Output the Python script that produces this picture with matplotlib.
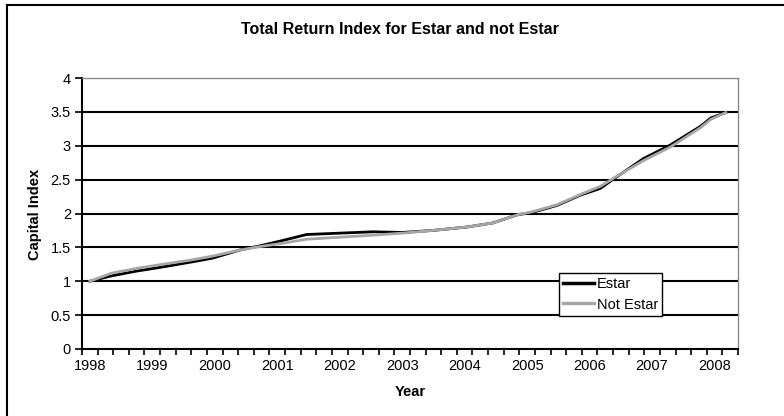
import numpy as np
import matplotlib
matplotlib.use("Agg")
import matplotlib.pyplot as plt
from matplotlib.lines import Line2D

plt.rcParams["font.family"] = ["Liberation Sans", "DejaVu Sans"]

# values
years = [1998.0, 1998.35, 1998.75, 1999.16, 1999.6, 1999.96, 2000.4, 2000.71, 2001.08,
         2001.47, 2002.0, 2002.53, 2003.0, 2003.49, 2004.03, 2004.45, 2004.84, 2005.1,
         2005.48, 2005.85, 2006.17, 2006.4, 2006.86, 2007.29, 2007.78, 2007.94, 2008.18]
estar = [1.00, 1.08, 1.15, 1.21, 1.28, 1.34, 1.46, 1.52, 1.60,
         1.69, 1.71, 1.73, 1.72, 1.75, 1.80, 1.86, 1.98, 2.02,
         2.12, 2.27, 2.37, 2.52, 2.81, 3.01, 3.29, 3.41, 3.49]
not_estar = [1.00, 1.12, 1.19, 1.25, 1.31, 1.37, 1.46, 1.51, 1.56,
             1.62, 1.65, 1.68, 1.71, 1.75, 1.80, 1.86, 1.98, 2.03,
             2.13, 2.28, 2.40, 2.53, 2.78, 2.98, 3.27, 3.39, 3.49]
year_labels = list(range(1998, 2009))
y_ticks = [0, 0.5, 1, 1.5, 2, 2.5, 3, 3.5, 4]
y_labels = ["0", "0.5", "1", "1.5", "2", "2.5", "3", "3.5", "4"]

fig = plt.figure(figsize=(7.84, 4.16), dpi=100)
ax = fig.add_axes([82 / 784, 1 - 349 / 416, 656 / 784, 271 / 416])

x0 = 1997.875
ax.set_xlim(x0, x0 + 10.5)
ax.set_ylim(0, 4)

for lvl in y_ticks[1:-1]:
    ax.axhline(lvl, color="black", lw=1.5, zorder=1)

ax.plot(years, estar, color="black", lw=2.0, label="Estar", zorder=3)
ax.plot(years, not_estar, color="#a6a6a6", lw=2.0, label="Not Estar", zorder=4)

# axes styling
for side in ["top", "right"]:
    ax.spines[side].set_color("#8a8a8a")
    ax.spines[side].set_linestyle((0, (1, 1)))
    ax.spines[side].set_linewidth(1.0)
for side in ["left", "bottom"]:
    ax.spines[side].set_color("black")
    ax.spines[side].set_linewidth(1.5)

ax.set_xticks(year_labels)
ax.set_xticklabels([str(y) for y in year_labels], fontsize=10.5)
ax.set_xticks(np.arange(x0, x0 + 10.51, 0.25), minor=True)
ax.tick_params(axis="x", which="major", length=0, pad=7)
ax.tick_params(axis="x", which="minor", length=4, width=1.2, direction="out", color="black")
ax.set_yticks(y_ticks)
ax.set_yticklabels(y_labels, fontsize=10.5)
ax.tick_params(axis="y", length=5, width=1.2, pad=3, direction="out")

ax.set_xlabel("Year", fontsize=10.5, fontweight="bold", labelpad=9)
fig.text(35 / 784, 1 - 214 / 416, "Capital Index", rotation=90, fontsize=10.5,
         fontweight="bold", ha="center", va="center")
fig.text(400 / 784, 1 - 30 / 416, "Total Return Index for Estar and not Estar",
         fontsize=11.5, fontweight="bold", ha="center", va="center")

leg = ax.legend(loc="lower left", bbox_to_anchor=(0.727, 0.122), fontsize=10.5,
                frameon=True, fancybox=False, framealpha=1, edgecolor="black",
                borderaxespad=0, handlelength=2.1, handletextpad=0.2,
                borderpad=0.3, labelspacing=0.45)
leg.get_frame().set_linewidth(1.0)
for h in leg.get_lines():
    h.set_linewidth(2.5)

# outer frame (left and top edges visible)
fig.add_artist(Line2D([7 / 784, 7 / 784], [0, 1 - 5 / 416], color="black", lw=1.5))
fig.add_artist(Line2D([7 / 784, 1], [1 - 5 / 416, 1 - 5 / 416], color="black", lw=1.5))

fig.savefig("out.png", dpi=100)
